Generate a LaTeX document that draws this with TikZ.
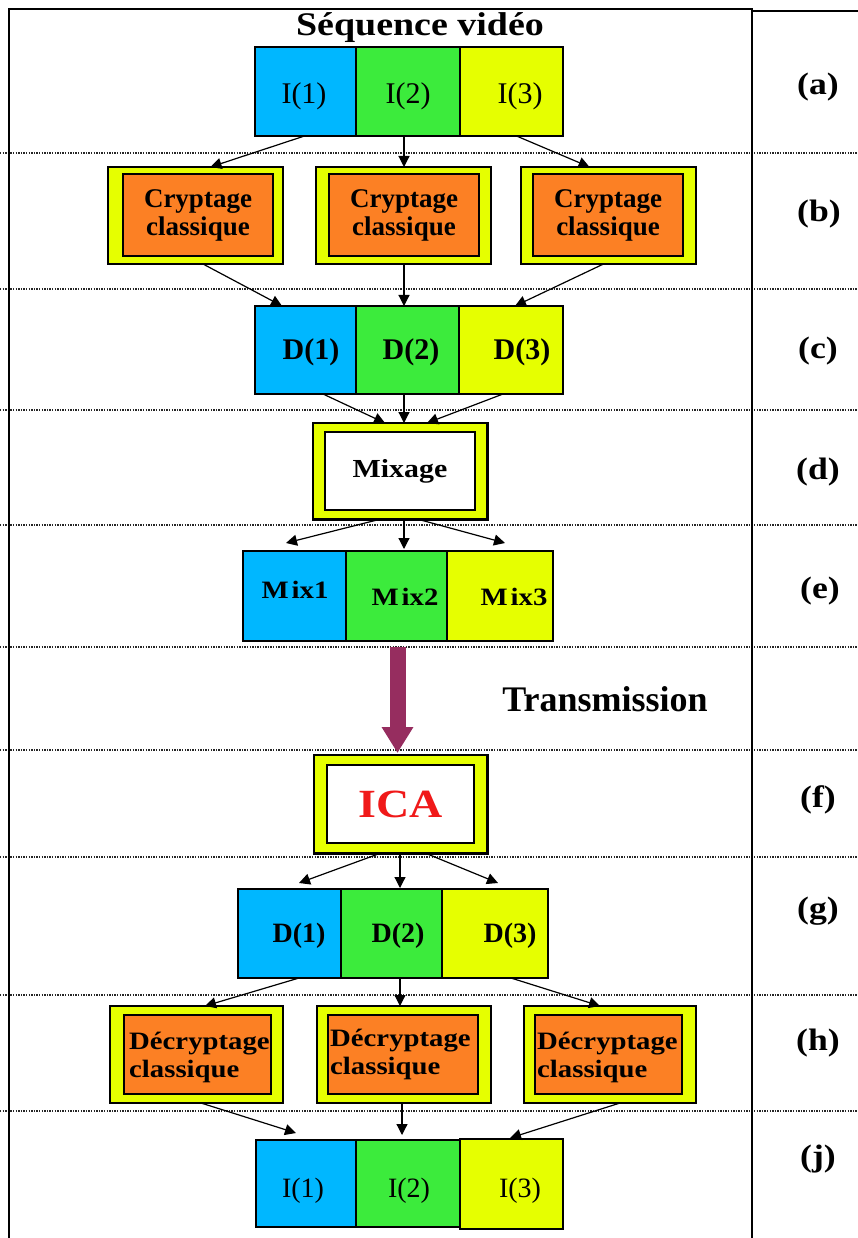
\documentclass[tikz,border=0pt]{standalone}
\usepackage{fontspec}
\setmainfont{Liberation Serif}
\newfontfamily\wideserif[FakeStretch=1.15]{Liberation Serif}
\usetikzlibrary{arrows.meta}

\definecolor{cblue}{RGB}{0,183,255}
\definecolor{cgreen}{RGB}{60,235,60}
\definecolor{cyel}{RGB}{230,255,0}
\definecolor{corange}{RGB}{252,128,36}
\definecolor{cpurple}{RGB}{150,45,95}
\definecolor{cred}{RGB}{240,25,25}

\tikzset{
  wh/.style 2 args={minimum width=#1pt, minimum height=#2pt},
  cell/.style={draw=black, line width=1.2pt, inner sep=0pt, outer sep=0pt},
  outerbox/.style={draw=black, line width=1.3pt, fill=cyel, inner sep=0pt, outer sep=0pt},
  innerbox/.style={draw=black, line width=2.6pt, fill=corange, inner sep=0pt, outer sep=0pt},
  whitebox/.style={draw=black, line width=2.4pt, fill=white, inner sep=0pt, outer sep=0pt},
  shadowedge/.style={line width=3pt, black, line cap=rect},
  arr/.style={line width=1.2pt, -{Triangle[length=11pt,width=11pt]}},
  bigarr/.style={line width=16pt, cpurple, -{Triangle[length=26pt,width=30pt]}},
  rule/.style={dash pattern=on 1.4pt off 1.2pt, line width=1.3pt, black!85},
  frame/.style={line width=1.4pt, black},
  itxt/.style={inner sep=0pt, font=\fontsize{30}{32}\selectfont},
  dtxt/.style={inner sep=0pt, font=\bfseries\fontsize{30}{32}\selectfont},
  mtxt/.style={inner sep=0pt, font=\wideserif\bfseries\fontsize{25}{27}\selectfont},
  crtxt/.style={align=center, font=\bfseries\fontsize{27}{28}\selectfont},
  dctxt/.style={inner sep=0pt, anchor=west, align=left, font=\wideserif\bfseries\fontsize{25}{28}\selectfont},
  lab/.style={inner sep=0pt, font=\wideserif\bfseries\fontsize{31}{33}\selectfont},
}

\begin{document}
\begin{tikzpicture}[x=1pt, y=-1pt]
\useasboundingbox (0,0) rectangle (858,1238);

% dotted row separators
\foreach \yy in {153,289,410,525,647,750,857,995,1111}
  \draw[rule] (0,\yy) -- (858,\yy);

% frame
\draw[frame] (9,1238) -- (9,9) -- (752,9) -- (752,1238);
\draw[frame] (752,11) -- (858,11);

% title
\node[inner sep=0pt, font=\wideserif\bfseries\fontsize{33}{35}\selectfont] (title) at (420,28) {Séquence vidéo};

% (a) source images
\node[cell, fill=cblue,  wh={101}{89}] (a1) at (305.5,91.5) {};
\node[cell, fill=cgreen, wh={104}{89}] (a2) at (408,91.5) {};
\node[cell, fill=cyel,   wh={103}{89}] (a3) at (511.5,91.5) {};
\node[itxt] (a1t) at (304,96.5) {I(1)};
\node[itxt] (a2t) at (408,96.5) {I(2)};
\node[itxt] (a3t) at (520,96.5) {I(3)};

% (b) classical encryption
\node[outerbox, wh={175}{97}] (b1o) at (195.5,215.5) {};
\node[outerbox, wh={175}{97}] (b2o) at (403.5,215.5) {};
\node[outerbox, wh={175}{97}] (b3o) at (608.5,215.5) {};
\node[innerbox, wh={150}{82}, crtxt] (b1i) at (198,215) {Cryptage\\classique};
\node[innerbox, wh={150}{82}, crtxt] (b2i) at (404,215) {Cryptage\\classique};
\node[innerbox, wh={150}{82}, crtxt] (b3i) at (608,215) {Cryptage\\classique};

% (c) encrypted images
\node[cell, fill=cblue,  wh={101}{88}] (c1) at (305.5,350) {};
\node[cell, fill=cgreen, wh={103}{88}] (c2) at (407.5,350) {};
\node[cell, fill=cyel,   wh={104}{88}] (c3) at (511,350) {};
\node[dtxt] (c1t) at (311,352) {D(1)};
\node[dtxt] (c2t) at (411,352) {D(2)};
\node[dtxt] (c3t) at (522,352) {D(3)};

% (d) mixing
\node[outerbox, line width=1.6pt, wh={174}{96}] (d) at (400,471) {};
\draw[shadowedge] (d.north east) -- (d.south east) -- (d.south west);
\node[whitebox, wh={150}{78}, font=\wideserif\bfseries\fontsize{26}{28}\selectfont] (di) at (400,471) {Mixage};

% (e) mixtures
\node[cell, fill=cblue,  wh={103}{90}] (e1) at (294.5,596) {};
\node[cell, fill=cgreen, wh={101}{90}] (e2) at (396.5,596) {};
\node[cell, fill=cyel,   wh={106}{90}] (e3) at (500,596) {};
\node[mtxt] (e1t) at (295,590) {M\kern3pt ix1};
\node[mtxt] (e2t) at (405,597) {M\kern3pt ix2};
\node[mtxt] (e3t) at (514,597) {M\kern3pt ix3};

\node[inner sep=0pt, font=\bfseries\fontsize{36}{38}\selectfont] (trans) at (605,699) {Transmission};

% (f) ICA
\node[outerbox, line width=1.6pt, wh={173}{98}] (f) at (400.5,804) {};
\draw[shadowedge] (f.north east) -- (f.south east) -- (f.south west);
\node[whitebox, wh={147}{78}, text=cred, font=\wideserif\bfseries\fontsize{40}{42}\selectfont] (fi) at (400.5,804) {ICA};

% (g) separated images
\node[cell, fill=cblue,  wh={103}{89}] (g1) at (289.5,933.5) {};
\node[cell, fill=cgreen, wh={101}{89}] (g2) at (391.5,933.5) {};
\node[cell, fill=cyel,   wh={106}{89}] (g3) at (495,933.5) {};
\node[dtxt, font=\bfseries\fontsize{28}{30}\selectfont] (g1t) at (299,936) {D(1)};
\node[dtxt, font=\bfseries\fontsize{28}{30}\selectfont] (g2t) at (398,936) {D(2)};
\node[dtxt, font=\bfseries\fontsize{28}{30}\selectfont] (g3t) at (510,936) {D(3)};

% (h) classical decryption
\node[outerbox, wh={173}{97}] (h1o) at (196.5,1054.5) {};
\node[outerbox, wh={174}{97}] (h2o) at (404,1054.5) {};
\node[outerbox, wh={172}{97}] (h3o) at (610,1054.5) {};
\node[innerbox, wh={147}{79}] (h1i) at (197.5,1054.5) {};
\node[innerbox, wh={150}{79}] (h2i) at (403,1054.5) {};
\node[innerbox, wh={147}{79}] (h3i) at (608.5,1054.5) {};
\node[dctxt] (h1t) at (129,1057.5) {Décryptage\\classique};
\node[dctxt] (h2t) at (330,1054.5) {Décryptage\\classique};
\node[dctxt] (h3t) at (537,1057.5) {Décryptage\\classique};

% (j) recovered images
\node[cell, fill=cblue,  wh={100}{87}] (j1) at (306,1183.5) {};
\node[cell, fill=cgreen, wh={104}{87}] (j2) at (408,1183.5) {};
\node[cell, fill=cyel,   wh={103}{90}] (j3) at (511.5,1184) {};
\node[itxt, font=\fontsize{28}{30}\selectfont] (j1t) at (303,1191) {I(1)};
\node[itxt, font=\fontsize{28}{30}\selectfont] (j2t) at (409,1191) {I(2)};
\node[itxt, font=\fontsize{28}{30}\selectfont] (j3t) at (520,1191) {I(3)};

% step labels
\node[lab] (la) at (818,87)   {(a)};
\node[lab] (lb) at (819,214)  {(b)};
\node[lab] (lc) at (818,351)  {(c)};
\node[lab] (ld) at (818,472)  {(d)};
\node[lab] (le) at (820,591)  {(e)};
\node[lab] (lf) at (818,800)  {(f)};
\node[lab] (lg) at (818,911)  {(g)};
\node[lab] (lh) at (818,1043) {(h)};
\node[lab] (lj) at (818,1159) {(j)};

% connectors a -> b
\draw[arr] ([xshift=-1pt]a1.south) -- ([xshift=15pt]b1o.north);
\draw[arr] ([xshift=-4pt]a2.south) -- ([xshift=0.5pt]b2o.north);
\draw[arr] ([xshift=5pt]a3.south) -- ([xshift=-19pt]b3o.north);
% b -> c
\draw[arr] ([xshift=7.5pt]b1o.south) -- ([xshift=-23.5pt]c1.north);
\draw[arr] ([xshift=0.5pt]b2o.south) -- ([xshift=-3.5pt]c2.north);
\draw[arr] ([xshift=-5pt]b3o.south) -- ([xshift=4pt]c3.north);
% c -> d
\draw[arr] ([xshift=17.5pt]c1.south) -- ([xshift=-15pt]d.north);
\draw[arr] ([xshift=-3.5pt]c2.south) -- ([xshift=4pt]d.north);
\draw[arr] ([xshift=-8pt]c3.south) -- ([xshift=27pt]d.north);
% d -> e
\draw[arr] ([xshift=-19pt]d.south) -- ([xshift=-8.5pt,yshift=8pt]e1.north);
\draw[arr] ([xshift=4pt]d.south) -- ([xshift=7.5pt,yshift=2pt]e2.north);
\draw[arr] ([xshift=17pt]d.south) -- ([xshift=5pt,yshift=8pt]e3.north);
% transmission
\draw[bigarr] ([xshift=1pt,yshift=-6pt]e2.south) -- ([xshift=-3pt,yshift=2pt]f.north);
% f -> g
\draw[arr] ([xshift=-19.5pt]f.south) -- ([xshift=9.5pt,yshift=6pt]g1.north);
\draw[arr] ([xshift=-0.5pt]f.south) -- ([xshift=8.5pt,yshift=1pt]g2.north);
\draw[arr] ([xshift=24.5pt]f.south) -- ([xshift=3pt,yshift=6pt]g3.north);
% g -> h
\draw[arr] ([xshift=9.5pt]g1.south) -- ([xshift=8.5pt]h1o.north);
\draw[arr] ([xshift=8.5pt]g2.south) -- ([xshift=-4pt]h2o.north);
\draw[arr] ([xshift=16pt]g3.south) -- ([xshift=-10pt]h3o.north);
% h -> j
\draw[arr] ([xshift=4.5pt]h1o.south) -- ([xshift=-10pt,yshift=7pt]j1.north);
\draw[arr] ([xshift=-2pt]h2o.south) -- ([xshift=-6pt,yshift=5pt]j2.north);
\draw[arr] ([xshift=10pt]h3o.south) -- ([xshift=-1.5pt,yshift=1pt]j3.north);
\end{tikzpicture}
\end{document}
